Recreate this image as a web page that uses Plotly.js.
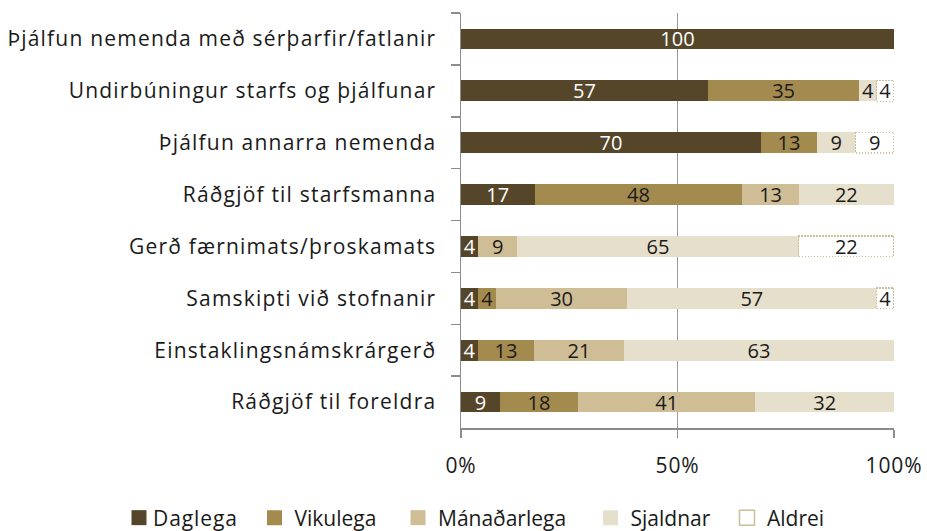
<!DOCTYPE html>
<html>
<head>
<meta charset="utf-8">
<script src="https://cdn.plot.ly/plotly-3.0.1.min.js"></script>
<style>
html,body{margin:0;padding:0;background:#fff;}
#chart{width:927px;height:531px;}
#chart .ytick text { letter-spacing: 1.2px; }
#chart .xtick text, #chart .legendtext { letter-spacing: 0.9px; }
#chart .legendtext { transform: translateX(-6px); }
#chart .legendpoints path { transform: translate(20px, 0px) scale(1.25); }
#chart .barlayer .trace:nth-child(5) .point path { stroke-dasharray: 1.5 1.5; }
</style>
</head>
<body>
<div id="chart"></div>
<script>
const categories = [
  "Þjálfun nemenda með sérþarfir/fatlanir",
  "Undirbúningur starfs og þjálfunar",
  "Þjálfun annarra nemenda",
  "Ráðgjöf til starfsmanna",
  "Gerð færnimats/þroskamats",
  "Samskipti við stofnanir",
  "Einstaklingsnámskrárgerð",
  "Ráðgjöf til foreldra"
];
const daglega     = [100, 57, 70, 17, 4, 4, 4, 9];
const vikulega    = [null, 35, 13, 48, null, 4, 13, 18];
const manadarlega = [null, null, null, 13, 9, 30, 21, 41];
const sjaldnar    = [null, 4, 9, 22, 65, 57, 63, 32];
const aldrei      = [null, 4, 9, null, 22, 4, null, null];
const seriesNames = ["Daglega", "Vikulega", "Mánaðarlega", "Sjaldnar", "Aldrei"];
const tickVals = [0, 50, 100];
const tickText = ["0%", "50%", "100%"];

const FONT = "Open Sans, sans-serif";
const colors = ["#55462A", "#A38A4E", "#CFBD95", "#E6DFCB", "#FFFFFF"];
const textColors = ["#FFFFFF", "#1A1A1A", "#1A1A1A", "#1A1A1A", "#1A1A1A"];
const allSeries = [daglega, vikulega, manadarlega, sjaldnar, aldrei];
const legendIds = ["legend", "legend2", "legend3", "legend4", "legend5"];
const legendPx = [119, 254.5, 398, 590.5, 727];   // left edge of each legend entry (px)

const PLOT_L = 461, PLOT_W = 433, PLOT_B = 428, PLOT_H = 415;

const traces = allSeries.map((vals, i) => ({
  type: "bar",
  orientation: "h",
  name: seriesNames[i],
  legend: legendIds[i],
  y: categories,
  x: vals,
  text: vals.map(v => v == null ? "" : String(v)),
  texttemplate: "%{text}",
  textposition: "inside",
  insidetextanchor: "middle",
  textangle: 0,
  constraintext: "none",
  textfont: {family: FONT, size: 20, color: textColors[i]},
  marker: {
    color: colors[i],
    line: i === 4 ? {color: "#CDBE98", width: 1.2} : {width: 0}
  },
  hoverinfo: "skip"
}));

const layout = {
  width: 927, height: 531,
  barmode: "stack",
  barnorm: "percent",
  bargap: 0.6,
  margin: {l: PLOT_L, r: 927 - PLOT_L - PLOT_W, t: 13, b: 531 - PLOT_B, pad: 0, autoexpand: false},
  paper_bgcolor: "#fff",
  plot_bgcolor: "#fff",
  font: {family: FONT, size: 21, color: "#1A1A1A"},
  showlegend: true,
  xaxis: {
    range: [0, 100],
    tickvals: tickVals,
    ticktext: tickText,
    showgrid: true,
    gridcolor: "#9A9A9A",
    gridwidth: 1.5,
    zeroline: false,
    showline: true,
    linecolor: "#8C8C8C",
    linewidth: 1.5,
    ticks: "outside",
    ticklen: 8,
    tickcolor: "#8C8C8C",
    tickwidth: 1.5,
    ticklabelstandoff: 10,
    tickfont: {family: FONT, size: 21, color: "#1A1A1A"},
    fixedrange: true
  },
  yaxis: {
    type: "category",
    autorange: "reversed",
    showline: true,
    linecolor: "#8C8C8C",
    linewidth: 1.5,
    ticks: "outside",
    tickson: "boundaries",
    ticklen: 9,
    tickcolor: "#8C8C8C",
    tickwidth: 1.5,
    ticklabelstandoff: 19,
    showgrid: false,
    tickfont: {family: FONT, size: 21, color: "#1A1A1A"},
    fixedrange: true
  }
};

legendIds.forEach((id, i) => {
  layout[id] = {
    orientation: "h",
    xref: "paper", yref: "paper",
    x: (legendPx[i] - PLOT_L) / PLOT_W, xanchor: "left",
    y: -(518 - PLOT_B) / PLOT_H, yanchor: "middle",
    itemwidth: 30,
    bgcolor: "rgba(0,0,0,0)",
    font: {family: FONT, size: 21, color: "#1A1A1A"}
  };
});

Plotly.newPlot("chart", traces, layout, {staticPlot: true, displayModeBar: false});
</script>
</body>
</html>
